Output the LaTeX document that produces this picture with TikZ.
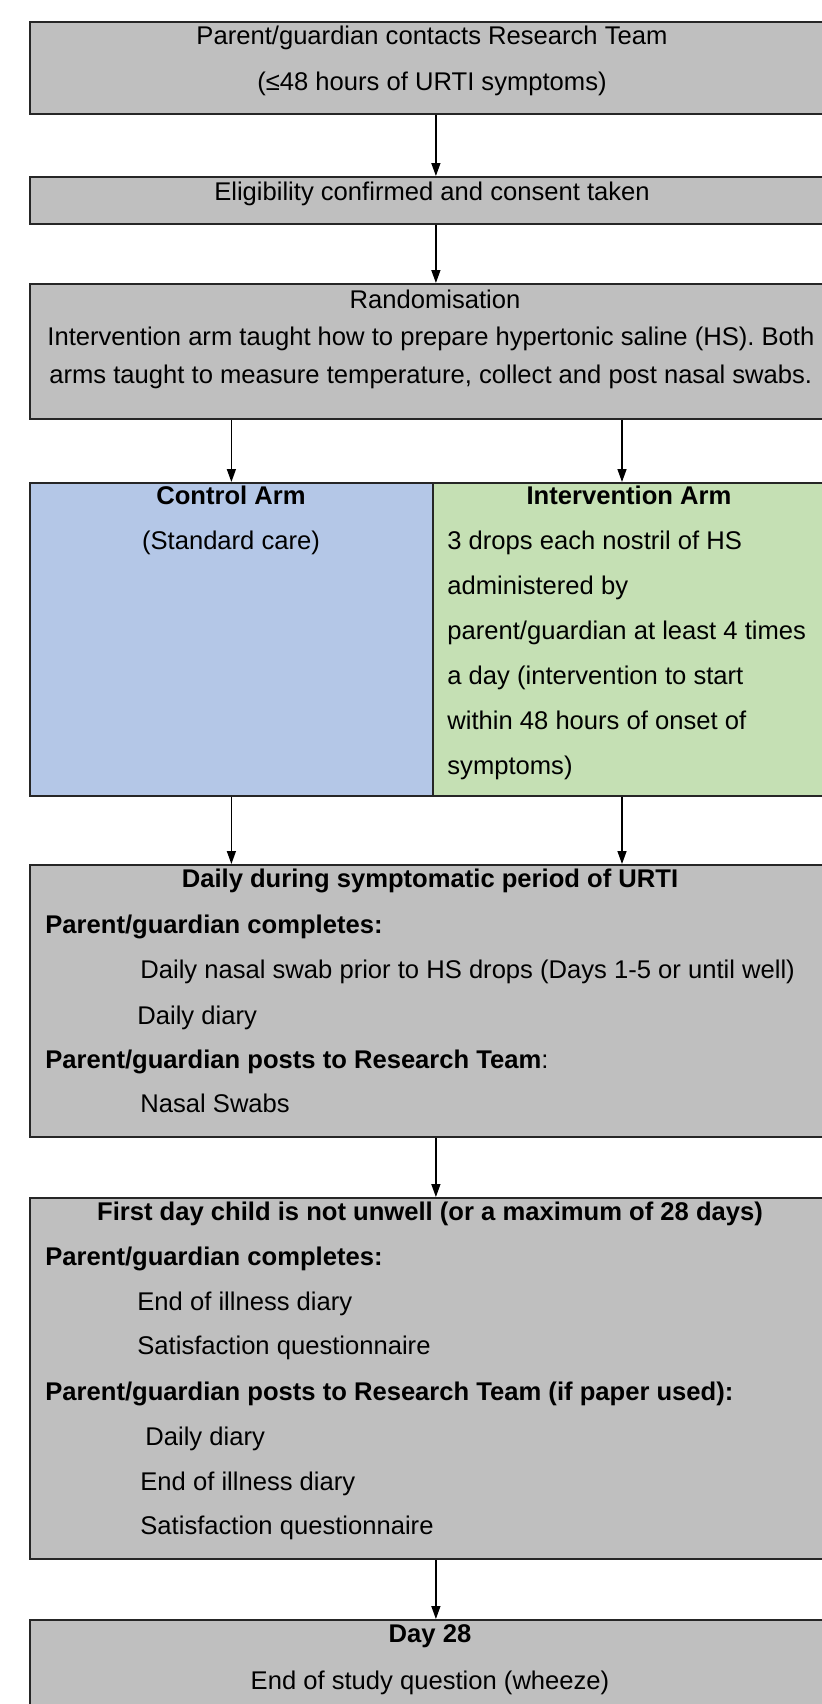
\documentclass[tikz,border=0pt]{standalone}
\usepackage{fontspec}
\setmainfont{Liberation Sans}
\usetikzlibrary{arrows.meta,calc}
\definecolor{boxgrey}{HTML}{BFBFBF}
\definecolor{ctrlblue}{HTML}{B4C7E7}
\definecolor{intgreen}{HTML}{C5E0B4}

\begin{document}
\begin{tikzpicture}[
		x=0.5pt,
		y=-0.5pt,
		font=\fontsize{12.8}{15}\selectfont,
		>={Triangle[width=4.5pt,length=6.5pt]},
		panel/.style={draw=black!85, line width=0.9pt, anchor=north west, inner sep=0pt, minimum width=406pt},
		ln/.style={anchor=base, inner sep=0pt},
		lnl/.style={anchor=base west, inner sep=0pt},
		arr/.style={->, line width=0.7pt}
		]
		\useasboundingbox (0,0) rectangle (822,1704);
		\clip (0,0) rectangle (822,1704);
		
		% boxes
		\node[panel, fill=boxgrey, minimum height=46pt] (contact) at (29,21) {};
		\node[panel, fill=boxgrey, minimum height=23.5pt] (elig) at (29,176) {};
		\node[panel, fill=boxgrey, minimum height=67.5pt] (rand) at (29,283) {};
		\node[panel, fill=ctrlblue, minimum width=201.5pt, minimum height=156.5pt] (ctrl) at (29,482) {};
		\node[panel, fill=intgreen, minimum width=197pt, minimum height=156.5pt] (intv) at (432,482) {};
		\node[panel, fill=boxgrey, minimum height=136pt] (daily) at (29,864) {};
		\node[panel, fill=boxgrey, minimum height=180.5pt] (firstday) at (29,1197) {};
		\node[panel, fill=boxgrey, minimum height=60pt] (day28) at (29,1619) {};
		
		% arrows
		\coordinate (rcol) at (622,0);
		\draw[arr] (contact.south) -- (elig.north);
		\draw[arr] (elig.south) -- (rand.north);
		\draw[arr] (rand.south -| ctrl.north) -- (ctrl.north);
		\draw[arr] (rand.south -| rcol) -- (intv.north -| rcol);
		\draw[arr] (ctrl.south) -- (daily.north -| ctrl.south);
		\draw[arr] (intv.south -| rcol) -- (daily.north -| rcol);
		\draw[arr] (daily.south) -- (firstday.north);
		\draw[arr] (firstday.south) -- (day28.north);
		
		% contact and eligibility
		\node[ln] (contact1) at (432,44.5) {Parent/guardian contacts Research Team};
		\node[ln] (contact2) at (432,90.5) {(≤48 hours of URTI symptoms)};
		\node[ln] (elig1) at (432,200.5) {Eligibility confirmed and consent taken};
		
		% randomisation
		\node[ln] (rand1) at (435,308.5) {Randomisation};
		\node[lnl] (rand2) at (47,345.5) {Intervention arm taught how to prepare hypertonic saline (HS). Both};
		\node[lnl] (rand3) at (49,383.5) {arms taught to measure temperature, collect and post nasal swabs.};
		
		% arms
		\node[ln] (ctrl1) at (231,504.5) {\bfseries Control Arm};
		\node[ln] (ctrl2) at (231,549.5) {(Standard care)};
		\node[ln] (intv0) at (629,504.5) {\bfseries Intervention Arm};
		\foreach \txt [count=\i] in {3 drops each nostril of HS, administered by,
			parent/guardian at least 4 times, a day (intervention to start,
			within 48 hours of onset of, symptoms)}
		\node[lnl] (intv\i) at (447,{504.5+45*\i}) {\txt};
		
		% daily during symptoms
		\node[ln] (daily1) at (430,887.5) {\bfseries Daily during symptomatic period of URTI};
		\node[lnl] (daily2) at (45,933.5) {\bfseries Parent/guardian completes:};
		\node[lnl] (daily3) at (140,978.5) {Daily nasal swab prior to HS drops (Days 1-5 or until well)};
		\node[lnl] (daily4) at (137,1024.5) {Daily diary};
		\node[lnl] (daily5) at (45,1068.5) {\textbf{Parent/guardian posts to Research Team}:};
		\node[lnl] (daily6) at (140,1112.5) {Nasal Swabs};
		
		% first day well
		\node[ln] (first1) at (430,1220.5) {\bfseries First day child is not unwell (or a maximum of 28 days)};
		\node[lnl] (first2) at (45,1265.5) {\bfseries Parent/guardian completes:};
		\node[lnl] (first3) at (137,1310.5) {End of illness diary};
		\node[lnl] (first4) at (137,1354.5) {Satisfaction questionnaire};
		\node[lnl] (first5) at (45,1400.5) {\bfseries Parent/guardian posts to Research Team (if paper used):};
		\node[lnl] (first6) at (145,1445.5) {Daily diary};
		\node[lnl] (first7) at (140,1490.5) {End of illness diary};
		\node[lnl] (first8) at (140,1534.5) {Satisfaction questionnaire};
		
		% day 28
		\node[ln] (end1) at (430,1642.5) {\bfseries Day 28};
		\node[ln] (end2) at (430,1689.5) {End of study question (wheeze)};
		
	\end{tikzpicture}
\end{document}
